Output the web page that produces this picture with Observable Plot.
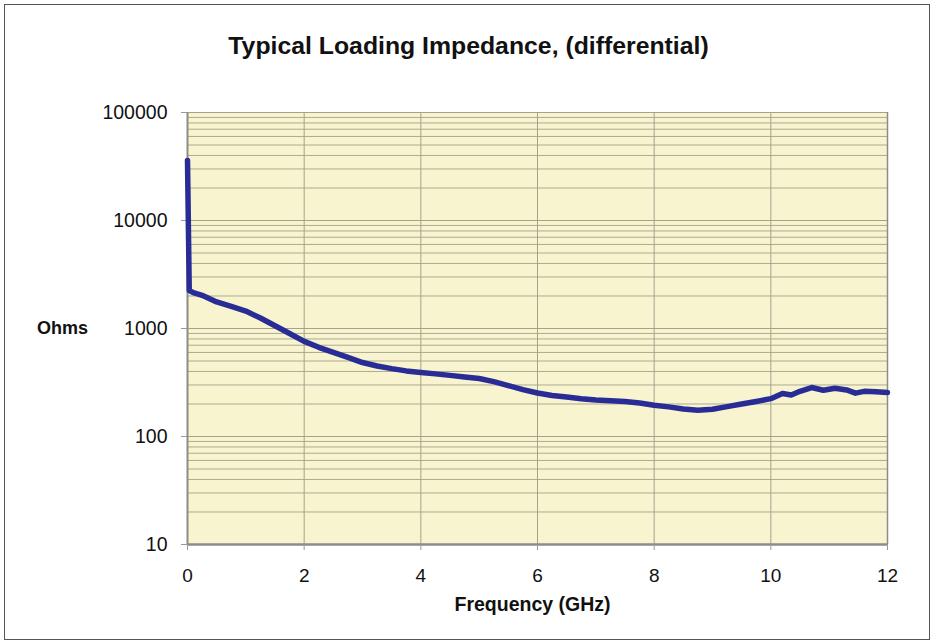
<!DOCTYPE html>
<html>
<head>
<meta charset="utf-8">
<script src="https://cdn.jsdelivr.net/npm/d3@7"></script>
<script src="https://cdn.jsdelivr.net/npm/@observablehq/plot@0.6"></script>
<style>
  html, body { margin: 0; padding: 0; background: #fff; }
  #chart { position: relative; width: 933px; height: 643px; }
  #border { position: absolute; left: 4px; top: 4px; width: 924px; height: 634px; border: 1px solid #555; pointer-events: none; }
</style>
</head>
<body>
<div id="chart"><div id="border"></div></div>
<script>
const freqGHz = [0, 0.03, 0.1, 0.25, 0.5, 0.75, 1, 1.25, 1.5, 1.75, 2, 2.25, 2.5, 2.75, 3, 3.25, 3.5, 3.75, 4, 4.25, 4.5, 4.75, 5, 5.25, 5.5, 5.75, 6, 6.25, 6.5, 6.75, 7, 7.25, 7.5, 7.75, 8, 8.25, 8.5, 8.75, 9, 9.25, 9.5, 9.75, 10, 10.2, 10.35, 10.5, 10.7, 10.9, 11.1, 11.3, 11.45, 11.6, 11.8, 12];
const ohms = [36000, 2250, 2150, 2030, 1760, 1600, 1450, 1250, 1060, 900, 760, 670, 600, 540, 484, 450, 425, 405, 391, 380, 368, 355, 344, 322, 296, 272, 253, 240, 232, 224, 218, 214, 211, 204, 195, 188, 180, 175, 179, 189, 200, 211, 224, 250, 242, 262, 284, 268, 280, 270, 252, 262, 260, 255];
const xTicks = [0, 2, 4, 6, 8, 10, 12];
const yTicks = [10, 100, 1000, 10000, 100000];
const titleText = "Typical Loading Impedance, (differential)";
const xLabel = "Frequency (GHz)";
const yLabel = "Ohms";

const data = freqGHz.map((f, i) => ({f, v: ohms[i]}));
const minorY = [];
for (let k = 0; k < 4; k++) for (let m = 2; m <= 9; m++) minorY.push(m * Math.pow(10, k + 1));

const plot = Plot.plot({
  width: 933,
  height: 643,
  marginLeft: 187,
  marginRight: 46,
  marginTop: 112,
  marginBottom: 99,
  style: {background: "transparent", fontFamily: "Liberation Sans, Arial, sans-serif", fontSize: "19px", color: "#111"},
  x: {domain: [0, 12], ticks: xTicks, label: null},
  y: {type: "log", domain: [10, 100000], ticks: yTicks, tickFormat: d => String(d), label: null},
  marks: [
    Plot.frame({fill: "#f7f4cf", stroke: null}),
    Plot.ruleY(minorY, {stroke: "#a3a38c", strokeWidth: 0.9}),
    Plot.ruleY(yTicks, {stroke: "#a3a38c", strokeWidth: 1}),
    Plot.ruleX(xTicks.slice(1, -1), {stroke: "#a3a38c", strokeWidth: 1}),
    Plot.ruleX([0], {stroke: "#8c8c8c", strokeWidth: 2}),
    Plot.ruleX([12], {stroke: "#8c8c8c", strokeWidth: 1.5}),
    Plot.ruleY([10], {stroke: "#8c8c8c", strokeWidth: 2.5}),
    Plot.axisX({ticks: xTicks, tickSize: 6, tickPadding: 18, stroke: "#999", fontSize: 19}),
    Plot.axisY({ticks: yTicks, tickSize: 6, tickPadding: 14, tickFormat: d => String(d), stroke: "#999", fontSize: 19.5}),
    Plot.line(data, {x: "f", y: "v", stroke: "#2a2c96", strokeWidth: 5.5, strokeLinejoin: "round", strokeLinecap: "round"}),
    Plot.text([titleText], {frameAnchor: "top", dx: -69, dy: -76, fontSize: 24.8, fontWeight: "bold", fill: "#111"}),
    Plot.text([xLabel], {frameAnchor: "bottom", dx: -5, dy: 66, fontSize: 19.5, fontWeight: "bold", fill: "#111"}),
    Plot.text([yLabel], {frameAnchor: "left", textAnchor: "middle", dx: -125, dy: 0, fontSize: 18, fontWeight: "bold", fill: "#111"})
  ]
});
document.getElementById("chart").prepend(plot);
</script>
</body>
</html>
